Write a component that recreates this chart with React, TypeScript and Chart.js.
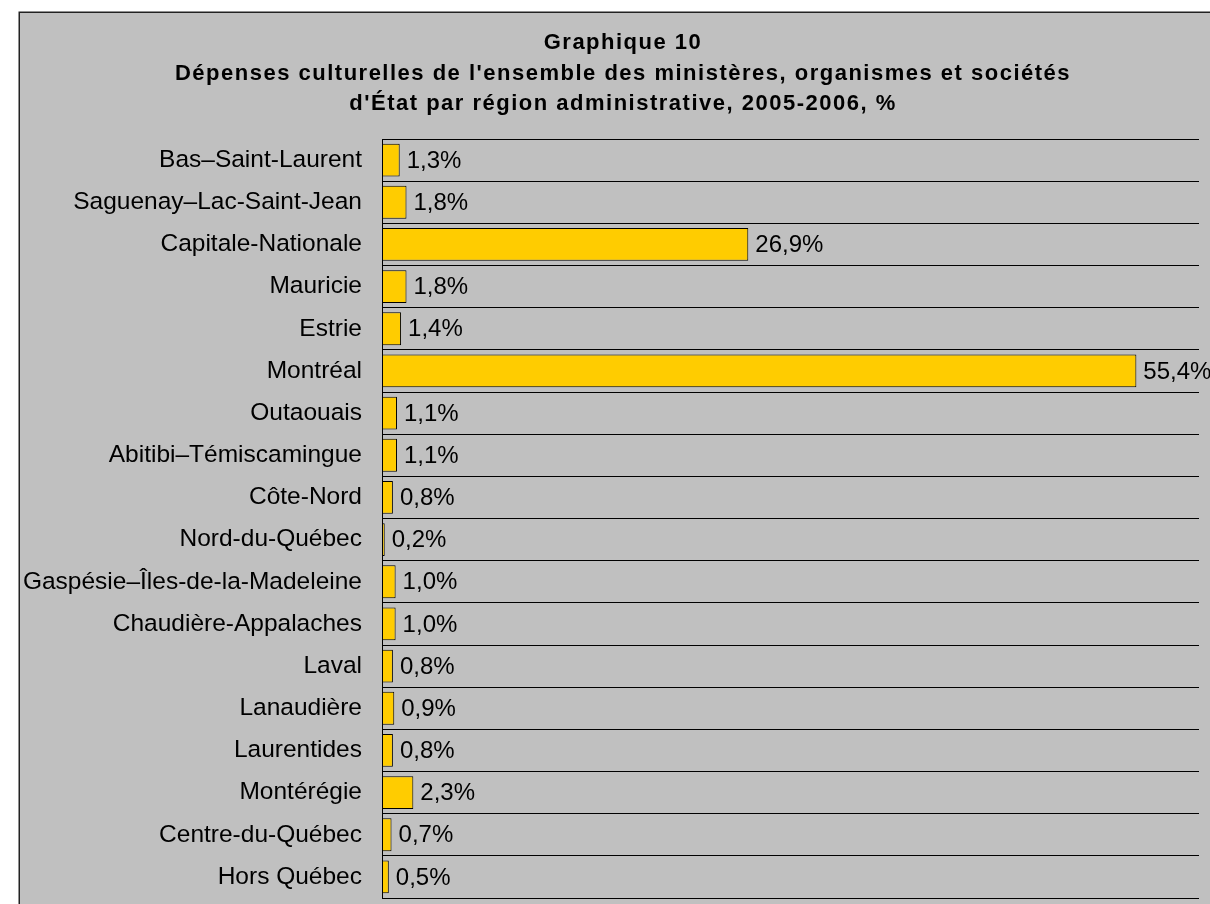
import React, { useEffect, useRef } from "react";
import { Chart, registerables } from "chart.js";

Chart.register(...registerables);

const titleLines = [
  "Graphique 10",
  "Dépenses culturelles de l'ensemble des ministères, organismes et sociétés",
  "d'État par région administrative, 2005-2006, %",
];

const categories = [
  "Bas–Saint-Laurent",
  "Saguenay–Lac-Saint-Jean",
  "Capitale-Nationale",
  "Mauricie",
  "Estrie",
  "Montréal",
  "Outaouais",
  "Abitibi–Témiscamingue",
  "Côte-Nord",
  "Nord-du-Québec",
  "Gaspésie–Îles-de-la-Madeleine",
  "Chaudière-Appalaches",
  "Laval",
  "Lanaudière",
  "Laurentides",
  "Montérégie",
  "Centre-du-Québec",
  "Hors Québec",
];

const values = [1.3, 1.8, 26.9, 1.8, 1.4, 55.4, 1.1, 1.1, 0.8, 0.2, 1.0, 1.0, 0.8, 0.9, 0.8, 2.3, 0.7, 0.5];

const FONT = '"Liberation Sans", Arial, sans-serif';

const framePlugin = {
  id: "frame",
  beforeDraw(chart: any) {
    const ctx = chart.ctx;
    ctx.save();
    ctx.fillStyle = "#ffffff";
    ctx.fillRect(0, 0, chart.width, chart.height);
    ctx.fillStyle = "#c0c0c0";
    ctx.fillRect(19, 12, chart.width + 20, chart.height + 20);
    ctx.strokeStyle = "#222222";
    ctx.lineWidth = 1.5;
    ctx.strokeRect(19.25, 12.25, chart.width + 40, chart.height + 40);
    ctx.restore();
  },
  afterDraw(chart: any) {
    const ctx = chart.ctx;
    ctx.save();
    ctx.fillStyle = "#000000";
    ctx.font = `bold 22px ${FONT}`;
    ctx.textAlign = "center";
    ctx.textBaseline = "alphabetic";
    try {
      (ctx as any).letterSpacing = "1.5px";
    } catch (e) {}
    const baselines = [49, 79.5, 110];
    titleLines.forEach((t, i) => ctx.fillText(t, 623, baselines[i]));
    ctx.restore();
  },
};

const labelPlugin = {
  id: "barLabels",
  afterDatasetsDraw(chart: any) {
    const ctx = chart.ctx;
    const meta = chart.getDatasetMeta(0);
    ctx.save();
    ctx.fillStyle = "#000000";
    ctx.font = `24px ${FONT}`;
    ctx.textAlign = "left";
    ctx.textBaseline = "middle";
    meta.data.forEach((bar: any, i: number) => {
      const txt = values[i].toFixed(1).replace(".", ",") + "%";
      ctx.fillText(txt, bar.x + 7, bar.y + 1);
    });
    ctx.restore();
  },
};

export default function App() {
  const ref = useRef<HTMLCanvasElement>(null);
  useEffect(() => {
    if (!ref.current) return;
    const chart = new Chart(ref.current, {
      type: "bar",
      data: {
        labels: categories,
        datasets: [
          {
            data: values,
            backgroundColor: "#ffcc00",
            borderColor: "#000000",
            borderWidth: 1,
            borderSkipped: false,
            barPercentage: 0.78,
            categoryPercentage: 1,
          },
        ],
      },
      options: {
        indexAxis: "y",
        responsive: false,
        animation: false,
        devicePixelRatio: 1,
        layout: { padding: { top: 139, bottom: 6, left: 0, right: 11 } },
        plugins: {
          legend: { display: false },
          title: { display: false },
          tooltip: { enabled: false },
        },
        scales: {
          x: {
            display: false,
            min: 0,
            max: 60,
          },
          y: {
            afterFit: (scale: any) => {
              scale.width = 382;
              scale.paddingTop = 0;
              scale.paddingBottom = 0;
            },
            grid: {
              color: "#000000",
              lineWidth: 1,
              drawTicks: false,
              offset: true,
            },
            border: { display: true, color: "#000000", width: 1 },
            ticks: {
              color: "#000000",
              padding: 20,
              font: { family: FONT, size: 24.5 },
              autoSkip: false,
            },
          },
        },
      },
      plugins: [framePlugin, labelPlugin],
    });
    return () => chart.destroy();
  }, []);
  return (
    <div style={{ position: "absolute", left: 0, top: 0, width: 1210, height: 904 }}>
      <canvas ref={ref} width={1210} height={904} style={{ display: "block" }} />
    </div>
  );
}
